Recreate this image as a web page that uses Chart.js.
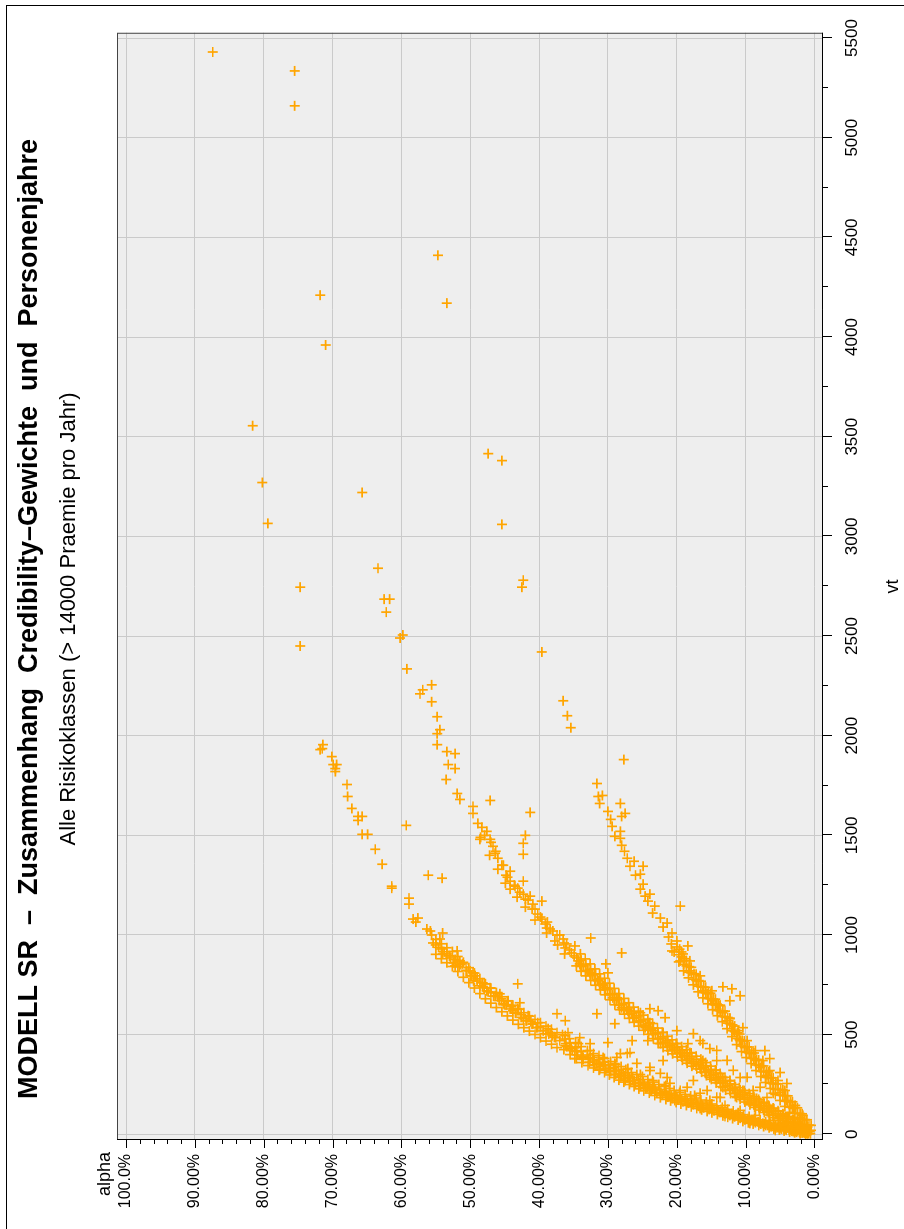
<!DOCTYPE html>
<html>
<head>
<meta charset="utf-8">
<script src="https://cdn.jsdelivr.net/npm/chart.js@4.4.1/dist/chart.umd.min.js"></script>
<style>
  html, body { margin: 0; padding: 0; background: #fff; }
  body { width: 904px; height: 1229px; overflow: hidden; position: relative; }
  #frame {
    position: absolute; left: 6px; top: 5px; width: 920px; height: 1260px;
    border-left: 1.5px solid #000; border-top: 1.5px solid #000;
  }
  #chartBox {
    position: absolute; left: 0; top: 0; width: 1229px; height: 904px;
    transform-origin: 0 0; transform: translate(0, 1229px) rotate(-90deg);
  }
</style>
</head>
<body>
<div id="frame"></div>
<div id="chartBox"><canvas id="credChart" width="1229" height="904"></canvas></div>
<script>
// [vt, alpha in %]
const highBranch = [
  [1955,71.4],[1935,71.5],[1930,71.8],[1895,70.1],[1855,69.9],[1855,69.4],[1835,69.6],[1820,69.6],
  [1755,67.9],[1695,67.8],[1635,67.2],[1595,66.3],[1595,65.7],[1575,66.3],[1505,65.7],[1505,64.9],
  [1430,63.8],[1355,62.8],[1245,61.4],[1235,61.4],[1185,58.9],[1155,58.9],[1080,58.3],[1085,57.6],
  [1065,57.9],[1030,56.3],[1020,55.8],[980,54.4],[960,55.4],[905,54.0],[905,53.4],[920,51.9],
  [885,52.9],[870,51.9],[870,51.5],[855,51.1],[845,52.2],[820,50.5],[820,50.0],[795,50.0],
  [795,49.3],[755,47.9],[745,48.6],[735,47.1],[720,47.6],[705,45.7],[695,46.4],[670,44.5],
  [655,45.2],[630,43.1],[620,43.8],[595,41.6],[580,42.3],[560,40.2],[555,40.9],[530,38.7],
  [520,39.4],[495,38.1],[470,37.0],[445,36.2],[430,35.5],[420,34.8],[385,33.6],[380,32.6],
  [355,31.6],[350,30.7],[320,29.7],[320,28.8],[295,28.0],[285,27.1],[270,26.4],[255,25.3],
  [235,24.3],[230,23.5],[205,22.4],[195,21.3],[180,20.0],[170,18.8],[155,17.6],[145,16.3],
  [130,15.2],[120,14.0],[105,12.7],[95,11.5],[80,10.4],[70,9.1],[55,7.9],[45,6.8],
  [35,5.4],[25,4.3],[15,3.1],[10,2.1],[5,0.9],
  [510,38.4],[540,39.8],[565,41.2],[600,42.6],[640,44.0],[680,45.5],[710,47.0],[760,48.2],
  [780,49.0],[810,49.6],[840,51.6],[860,52.4],[895,53.0],[930,54.2],[950,55.0],[1000,55.6],
  [485,37.6],[505,39.0],[535,40.4],[570,41.9],[610,43.4],[650,44.8],[690,46.0],[735,48.0],[770,49.5],
  [938,54.6],[916,53.8],[896,53.0],[877,52.2],[852,51.4],[823,50.6],[796,49.8],[769,49.0],
  [741,48.2],[715,47.4],[693,46.6],[671,45.8],[650,45.0],[629,44.2],[608,43.4],[587,42.6],
  [570,41.8],[553,41.0],[536,40.2],[520,39.4],[503,38.6],[487,37.8],
  [978,55.0],[956,54.2],[936,53.4],[917,52.6],[892,51.8],[863,51.0],[836,50.2],[809,49.4],
  [781,48.6],[755,47.8],[733,47.0],[711,46.2],[690,45.4],[669,44.6],[648,43.8],[627,43.0],
  [610,42.2],[593,41.4],[576,40.6],[560,39.8],[543,39.0],[527,38.2],[510,37.4],
  [903,55.0],[881,54.2],[861,53.4],[842,52.6],[817,51.8],[788,51.0],[761,50.2],[734,49.4],
  [706,48.6],[680,47.8],[658,47.0],[636,46.2],[615,45.4],[594,44.6],[573,43.8],[552,43.0],
  [535,42.2],[518,41.4],[501,40.6],[485,39.8],[468,39.0],[452,38.2],[435,37.4],
  [500,36.6],[480,35.6],[460,34.7],[440,33.9],[420,33.0],[405,32.1],[395,31.3],[380,30.5],
  [365,29.6],[350,28.9],[340,28.1],[325,27.4],[310,26.6],[300,25.8],[290,25.0],[275,24.2],
  [262,23.4],[250,22.6],[240,21.8],[230,21.1],[220,20.4],[210,19.6],[200,18.8],[192,18.0],
  [182,17.2],[172,16.5],[162,15.7],[152,14.9],[143,14.2],[135,13.4],[125,12.6],[117,11.8],
  [108,11.1],[98,10.3],[90,9.5],[80,8.7],[72,7.9],[63,7.1],[55,6.4],[47,5.6],
  [40,4.8],[32,4.0],[25,3.2],[18,2.5],[12,1.7],
  [455,36.1],[438,35.3],[415,34.5],[392,33.7],[378,32.8],[368,32.0],[357,31.2],[345,30.4],
  [332,29.7],[318,29.0],[305,28.3],[293,27.6],[283,26.9],[270,26.2],[258,25.4],[248,24.7],
  [236,23.9],[222,23.1],[210,22.3],[200,21.5],[192,20.8],[184,20.0],[176,19.3],[168,18.5],
  [160,17.8],[151,17.0],[143,16.3],[135,15.5],[127,14.8],[120,14.0],[112,13.2],[104,12.5],
  [97,11.8],[89,11.0],[81,10.3],[74,9.5],[66,8.8],[59,8.0],[52,7.3],[45,6.5],
  [39,5.8],[33,5.0],[27,4.3],[21,3.5],[15,2.8],[10,2.0],[6,1.3],[3,0.6],
  [425,36.4],[400,35.5],[380,34.6],[360,33.8],[345,32.9],[333,32.1],[322,31.3],[310,30.5],
  [298,29.8],[285,29.1],[272,28.4],[262,27.7],[250,26.9],[240,26.2],[228,25.5],[218,24.8],
  [207,24.0],[195,23.2],[184,22.4],[175,21.6],[168,20.9],[160,20.1],[152,19.4],[145,18.6],
  [138,17.9],[130,17.1],[123,16.4],[115,15.6],[108,14.9],[100,14.1],[93,13.3],[86,12.6],
  [79,11.9],[72,11.1],[65,10.4],[58,9.6],[52,8.9],[45,8.1],[39,7.4],[33,6.6],
  [27,5.9],[22,5.1],[17,4.4],[12,3.6],[8,2.9],[4,2.1],[2,1.3],
  [478,36.3],[458,35.5],[436,34.7],[415,33.9],[398,33.0],[386,32.2],[375,31.4],[362,30.6],
  [348,29.9],[334,29.2],[322,28.5],[309,27.8],[297,27.1],[285,26.4],[274,25.6],[262,24.9],
  [250,24.1],[237,23.3],[225,22.5],[215,21.7],[206,21.0],[197,20.2],[189,19.5],[180,18.7],
  [171,18.0],[162,17.2],[153,16.5],[145,15.7],[136,15.0],[128,14.2],[120,13.4],[111,12.7],
  [103,12.0],[94,11.2],[86,10.5],[78,9.7],[70,9.0],[62,8.2],[55,7.5],[47,6.7],
  [41,6.0],[34,5.2],[28,4.5],[22,3.7],[16,3.0],[11,2.2],[7,1.5],
  [440,36.0],[420,35.2],[398,34.4],[376,33.6],[362,32.7],[350,31.9],[340,31.1],[328,30.3],
  [315,29.6],[302,28.9],[290,28.2],[278,27.5],[267,26.7],[255,26.0],[244,25.3],[233,24.5],
  [222,23.7],[209,22.9],[197,22.1],[187,21.3],[180,20.6],[172,19.8],[164,19.1],[157,18.3],
  [149,17.6],[141,16.8],[133,16.1],[125,15.3],[118,14.6],[110,13.8],[102,13.0],[95,12.3],
  [88,11.6],[81,10.8],[73,10.1],[66,9.3],[59,8.6],[52,7.8],[45,7.1],[39,6.3],
  [33,5.6],[27,4.8],[21,4.1],[16,3.3],[11,2.6],[7,1.8],[3,1.0],
  [495,36.2],[455,34.3],[420,32.6],[385,30.7],[355,29.0],[330,27.1],[300,25.3],[270,23.5],
  [245,21.6],[220,19.5],[195,17.4],[170,15.2],[145,13.0],[120,10.8],[95,8.6],[70,6.5],
  [45,4.3],[25,2.4],
  [380,34.8],[325,31.2],[270,27.5],[220,23.9],[170,20.3],[130,16.6],[90,13.0],[55,9.4],[20,5.7]
];

const midBranch = [
  [2010,54.8],[1955,54.8],[1920,53.4],[1910,52.2],[1855,53.2],[1835,52.2],[1780,53.5],[1710,51.9],
  [1680,51.5],[1645,49.6],[1610,49.6],[1560,48.9],[1520,47.6],[1480,48.6],[1480,47.1],[1445,46.7],
  [1385,46.0],[1320,44.2],[1270,44.2],[1230,44.2],[1235,43.1],[1270,42.3],[1205,42.3],[1195,41.3],
  [1170,39.6],[1155,40.9],[1105,40.2],[1055,39.1],[1035,38.9],[1020,38.0],[980,36.5],[970,37.7],
  [945,34.8],[935,36.2],[885,34.5],[855,34.1],[820,33.0],[805,32.3],[770,31.4],[735,30.4],
  [705,29.7],[685,29.3],[635,28.0],[585,26.4],[570,25.3],[535,24.6],[520,23.6],[460,21.6],
  [455,22.4],[420,20.6],[405,19.5],[370,18.5],[355,17.6],[330,16.6],[310,15.9],[285,15.2],
  [270,14.2],[235,13.3],[220,12.3],[185,11.3],[175,10.2],[155,9.4],[145,8.6],[135,7.9],
  [115,6.9],[95,6.0],[80,5.0],[60,4.0],[45,3.1],[30,2.1],[15,1.2],
  [810,32.6],[745,30.7],[685,28.7],[620,27.1],[610,25.3],[560,23.9],[510,22.0],[455,20.1],
  [410,18.1],[370,16.2],[320,14.3],[270,12.3],[220,10.4],[180,8.4],[130,6.5],[95,4.6],[50,2.5],
  [1500,47.9],[1420,46.3],[1350,45.2],[1290,44.6],[1250,43.6],[1180,42.0],[1130,41.0],[1080,39.6],
  [1000,37.0],[955,36.0],[910,35.3],
  [1540,48.3],[1465,47.0],[1410,46.4],[1350,45.4],[1300,44.8],[1245,43.5],[1215,42.8],[1175,41.6],
  [1130,40.6],[1090,39.8],[1065,38.8],[1030,38.4],[1000,37.4],[960,36.4],[925,35.6],[895,34.9],
  [1490,48.5],[1400,47.2],[1330,46.0],[1260,44.9],[1190,43.2],[1140,42.0],[1075,40.6],[1010,38.9],
  [950,37.3],[905,36.3],
  [870,34.3],[845,33.6],[822,32.9],[800,32.2],[775,31.5],[752,30.8],[728,30.1],[702,29.4],
  [675,28.7],[650,28.0],[628,27.3],[608,26.6],[588,25.9],[568,25.2],[548,24.5],[528,23.8],
  [505,23.1],[482,22.4],[462,21.7],[445,21.0],[428,20.3],[412,19.6],[395,18.9],[380,18.2],
  [365,17.5],[351,16.8],[337,16.1],[318,15.4],[300,14.7],[283,14.0],[262,13.3],[245,12.6],
  [228,11.9],[212,11.2],[198,10.5],[184,9.8],[170,9.1],[157,8.4],[144,7.7],[131,7.0],
  [118,6.3],[104,5.6],[90,4.9],[77,4.2],[64,3.5],[51,2.8],[39,2.1],[27,1.4],[14,0.7],
  [905,34.0],[880,33.3],[855,32.6],[830,31.9],[805,31.2],[783,30.5],[758,29.8],[732,29.1],
  [706,28.4],[682,27.7],[660,27.0],[638,26.3],[618,25.6],[598,24.9],[578,24.2],[556,23.5],
  [533,22.8],[512,22.1],[492,21.4],[474,20.7],[456,20.0],[440,19.3],[424,18.6],[408,17.9],
  [392,17.2],[377,16.5],[360,15.8],[342,15.1],[323,14.4],[305,13.7],[286,13.0],[268,12.3],
  [250,11.6],[234,10.9],[219,10.2],[204,9.5],[189,8.8],[175,8.1],[161,7.4],[146,6.7],
  [132,6.0],[118,5.3],[103,4.6],[88,3.9],[74,3.2],[59,2.5],[45,1.8],[30,1.1],
  [845,34.6],[818,33.9],[795,33.2],[772,32.5],[748,31.8],[725,31.1],[700,30.4],[675,29.7],
  [650,29.0],[625,28.3],[603,27.6],[582,26.9],[562,26.2],[543,25.5],[522,24.8],[502,24.1],
  [480,23.4],[456,22.7],[436,22.0],[420,21.3],[404,20.6],[388,19.9],[372,19.2],[357,18.5],
  [342,17.8],[328,17.1],[312,16.4],[295,15.7],[276,15.0],[258,14.3],[239,13.6],[222,12.9],
  [205,12.2],[190,11.5],[176,10.8],[162,10.1],[148,9.4],[135,8.7],[122,8.0],[110,7.3],
  [97,6.6],[84,5.9],[71,5.2],[58,4.5],[45,3.8],[33,3.1],[22,2.4],[12,1.7],
  [874,33.9],[850,33.2],[828,32.5],[804,31.8],[780,31.1],[757,30.4],[732,29.7],[705,29.0],
  [679,28.3],[656,27.6],[635,26.9],[615,26.2],[595,25.5],[575,24.8],[555,24.1],[533,23.4],
  [510,22.7],[489,22.0],[470,21.3],[453,20.6],[437,19.9],[420,19.2],[404,18.5],[389,17.8],
  [375,17.1],[361,16.4],[344,15.7],[326,15.0],[308,14.3],[289,13.6],[270,12.9],[253,12.2],
  [237,11.5],[222,10.8],[208,10.1],[194,9.4],[180,8.7],[167,8.0],[154,7.3],[141,6.6],
  [128,5.9],[114,5.2],[100,4.5],[87,3.8],[74,3.1],[62,2.4],[50,1.7],[37,1.0],
  [842,34.0],[818,33.3],[796,32.6],[772,31.9],[748,31.2],[725,30.5],[700,29.8],[673,29.1],
  [647,28.4],[624,27.7],[603,27.0],[583,26.3],[563,25.6],[543,24.9],[523,24.2],[501,23.5],
  [478,22.8],[457,22.1],[438,21.4],[421,20.7],[405,20.0],[388,19.3],[372,18.6],[357,17.9],
  [343,17.2],[329,16.5],[312,15.8],[294,15.1],[276,14.4],[257,13.7],[238,13.0],[221,12.3],
  [205,11.6],[190,10.9],[176,10.2],[162,9.5],[148,8.8],[135,8.1],[122,7.4],[109,6.7],
  [96,6.0],[82,5.3],[68,4.6],[55,3.9],[42,3.2],[30,2.5],[18,1.8],[7,1.1]
];

const lowBranch = [
  [1760,31.6],[1695,31.4],[1660,31.2],[1620,30.0],[1660,28.2],[1610,27.5],[1595,28.0],[1545,29.4],
  [1495,29.0],[1520,28.2],[1485,28.2],[1385,27.2],[1345,26.8],[1345,24.9],[1305,25.3],[1255,24.9],
  [1195,24.6],[1205,23.9],[1145,23.2],[1085,22.4],[1060,21.4],[1010,20.7],[970,20.0],[920,20.7],
  [905,19.1],[870,19.5],[820,18.1],[770,17.1],[720,16.2],[705,15.6],[670,14.9],[655,14.2],
  [610,13.4],[570,12.7],[520,11.8],[470,10.8],[435,10.1],[405,9.4],[370,8.6],[335,7.9],
  [295,6.9],[255,6.0],[210,5.0],[170,4.0],[130,3.1],[85,2.1],[45,1.2],
  [1700,30.8],[1580,29.6],[1450,28.0],[1420,27.6],[1370,26.2],[1300,26.0],[1230,25.3],[1170,24.2],
  [1110,23.5],[1040,22.0],[990,21.2],[955,20.8],
  [870,18.1],[795,16.6],[720,14.9],[645,13.7],[580,12.3],[520,11.1],[470,9.8],[420,8.6],
  [370,7.5],[320,6.5],[270,5.3],[220,4.3],[145,2.8],[95,1.7],
  [940,20.0],[890,19.3],[845,18.6],[810,17.9],[775,17.2],[740,16.5],[710,15.8],[680,15.1],
  [650,14.4],[620,13.7],[590,13.0],[555,12.3],[515,11.6],[475,10.9],[440,10.2],[410,9.5],
  [380,8.8],[345,8.1],[315,7.4],[285,6.7],[255,6.0],[225,5.3],[195,4.6],[165,3.9],
  [135,3.2],[105,2.5],[75,1.8],[45,1.1],[20,0.5],
  [915,19.3],[872,18.6],[838,17.9],[803,17.2],[768,16.5],[738,15.8],[708,15.1],[678,14.4],
  [648,13.7],[618,13.0],[583,12.3],[543,11.6],[503,10.9],[468,10.2],[438,9.5],[408,8.8],
  [373,8.1],[343,7.4],[313,6.7],[283,6.0],[253,5.3],[223,4.6],[193,3.9],[163,3.2],
  [133,2.5],[103,1.8],[73,1.1],[45,0.5],
  [915,20.4],[865,19.7],[820,19.0],[785,18.3],[750,17.6],[715,16.9],[685,16.2],[655,15.5],
  [625,14.8],[595,14.1],[565,13.4],[530,12.7],[490,12.0],[450,11.3],[415,10.6],[385,9.9],
  [355,9.2],[320,8.5],[290,7.8],[260,7.1],[230,6.4],[200,5.7],[170,5.0],[140,4.3],
  [110,3.6],[80,2.9],[50,2.2],[25,1.5],
  [929,19.6],[881,18.9],[841,18.2],[806,17.5],[771,16.8],[739,16.1],[709,15.4],[679,14.7],
  [649,14.0],[619,13.3],[586,12.6],[549,11.9],[509,11.2],[471,10.5],[439,9.8],[409,9.1],
  [376,8.4],[344,7.7],[314,7.0],[284,6.3],[254,5.6],[224,4.9],[194,4.2],[164,3.5],
  [134,2.8],[104,2.1],[74,1.4],[46,0.8],
  [901,19.7],[853,19.0],[813,18.3],[778,17.6],[743,16.9],[711,16.2],[681,15.5],[651,14.8],
  [621,14.1],[591,13.4],[558,12.7],[521,12.0],[481,11.3],[443,10.6],[411,9.9],[381,9.2],
  [348,8.5],[316,7.8],[286,7.1],[256,6.4],[226,5.7],[196,5.0],[166,4.3],[136,3.6],
  [106,2.9],[76,2.2],[46,1.5],[18,0.8]
];

const scattered = [
  [5430,87.4],[5335,75.5],[5160,75.5],[4210,71.8],[3960,71.0],[3555,81.6],[3270,80.2],[3065,79.4],
  [2745,74.7],[2450,74.7],[3220,65.7],[2840,63.4],[2685,62.5],[2685,61.7],[2620,62.2],[2490,60.2],
  [2505,59.8],[2335,59.2],[2210,57.3],[2230,56.9],[2255,55.6],[2170,55.6],[2095,54.8],[2030,54.4],
  [4410,54.7],[4170,53.4],[3415,47.4],[3380,45.4],[3060,45.4],[2780,42.3],[2745,42.5],[2420,39.6],
  [2175,36.5],[2100,35.9],[2040,35.4],[1880,27.7],[1550,59.3],[1300,56.1],[1285,54.1],[1010,54.0],
  [1675,47.1],[1615,41.3],[1500,42.0],[1460,42.3],[1405,42.3],[985,32.5],[910,28.0],[855,30.3],
  [810,30.0],[755,43.1],[660,42.8],[605,37.4],[605,31.6],[555,29.0],[510,35.8],[570,36.2],
  [485,34.1],[455,32.6],[460,30.0],[405,28.2],[470,26.5],[410,26.8],[630,23.9],[620,22.7],
  [585,21.7],[470,24.2],[320,23.9],[370,22.0],[285,21.4],[520,20.0],[455,18.4],[505,17.6],
  [470,16.6],[430,15.2],[370,14.2],[285,13.3],[270,17.6],[220,15.6],[185,13.7],[285,10.8],
  [220,8.9],[185,6.9],[740,13.3],[730,12.0],[670,12.3],[695,10.8],[535,10.4],[420,7.2],
  [380,6.5],[310,5.0],[255,4.0],[1145,19.5],[945,18.4],
  [386,28.7],[406,27.2],[356,25.8],[336,23.9],[306,22.4],[256,21.0],[236,18.5],[206,16.6],[186,14.2],
  [456,16.2],[421,14.2],[371,12.7],[321,11.8],[286,9.8],[236,7.9],[206,6.0]
];

const vtTicks = [0, 500, 1000, 1500, 2000, 2500, 3000, 3500, 4000, 4500, 5000, 5500];
const vtTickLabels = ["0", "500", "1000", "1500", "2000", "2500", "3000", "3500", "4000", "4500", "5000", "5500"];
const alphaTicks = [0, 10, 20, 30, 40, 50, 60, 70, 80, 90, 100];
const alphaTickLabels = ["0.00%", "10.00%", "20.00%", "30.00%", "40.00%", "50.00%", "60.00%", "70.00%", "80.00%", "90.00%", "100.0%"];
const vtMinorStep = 250;
const alphaMinorStep = 2;

const titleText = "MODELL SR  \u2013  Zusammenhang  Credibility\u2013Gewichte  und  Personenjahre";
const subtitleText = "Alle Risikoklassen (> 14000 Praemie pro Jahr)";

const FONT = "'Liberation Sans', Arial, sans-serif";

// plot background, frame, tick marks and the "alpha" label
const plotFrame = {
  id: "plotFrame",
  beforeDraw(chart) {
    const { ctx, chartArea: a } = chart;
    ctx.save();
    ctx.fillStyle = "#eeeeee";
    ctx.fillRect(a.left, a.top, a.right - a.left, a.bottom - a.top);
    ctx.restore();
  },
  afterDraw(chart) {
    const { ctx, chartArea: a, scales } = chart;
    const x = scales.x;
    const y = scales.y;
    ctx.save();
    ctx.strokeStyle = "#444";
    ctx.lineWidth = 1;
    ctx.strokeRect(a.left + 0.5, a.top + 0.5, a.right - a.left - 1, a.bottom - a.top - 1);

    ctx.strokeStyle = "#000";
    ctx.beginPath();
    ctx.moveTo(a.left, a.bottom - 0.5);
    ctx.lineTo(a.right, a.bottom - 0.5);
    ctx.moveTo(a.left + 0.5, a.top);
    ctx.lineTo(a.left + 0.5, a.bottom);
    const vtMax = vtTicks[vtTicks.length - 1];
    for (let v = vtTicks[0]; v <= vtMax; v += vtMinorStep) {
      const px = Math.round(x.getPixelForValue(v)) + 0.5;
      const len = vtTicks.includes(v) ? 9 : 5;
      ctx.moveTo(px, a.bottom);
      ctx.lineTo(px, a.bottom + len);
    }
    const alphaMax = alphaTicks[alphaTicks.length - 1];
    for (let v = alphaTicks[0]; v <= alphaMax; v += alphaMinorStep) {
      const py = Math.round(y.getPixelForValue(v)) + 0.5;
      const len = alphaTicks.includes(v) ? 8 : 4;
      ctx.moveTo(a.left, py);
      ctx.lineTo(a.left - len, py);
    }
    ctx.stroke();

    ctx.fillStyle = "#000";
    ctx.font = "18px " + FONT;
    ctx.textAlign = "right";
    ctx.textBaseline = "alphabetic";
    ctx.fillText("alpha", 77, 110);
    ctx.restore();
  },
};

function toPoints(list) {
  return list.map(([vt, alpha]) => ({ x: vt, y: alpha }));
}

const allPoints = [
  ...toPoints(highBranch),
  ...toPoints(midBranch),
  ...toPoints(lowBranch),
  ...toPoints(scattered),
];

const ctx = document.getElementById("credChart").getContext("2d");
new Chart(ctx, {
  type: "scatter",
  data: {
    datasets: [
      {
        data: allPoints,
        pointStyle: "cross",
        pointRadius: 5,
        pointBorderWidth: 1.7,
        borderColor: "#FFA500",
        backgroundColor: "#FFA500",
      },
    ],
  },
  options: {
    responsive: false,
    devicePixelRatio: 1,
    animation: false,
    layout: { padding: { left: 0, right: 9, top: 0, bottom: 0 } },
    plugins: {
      legend: { display: false },
      tooltip: { enabled: false },
      title: {
        display: true,
        text: titleText,
        color: "#000",
        font: { family: FONT, size: 27, weight: "bold" },
        padding: { top: 13, bottom: 4 },
      },
      subtitle: {
        display: true,
        text: subtitleText,
        color: "#000",
        font: { family: FONT, size: 22, weight: "normal" },
        padding: { top: 6.4, bottom: 34.8 },
      },
    },
    scales: {
      x: {
        type: "linear",
        min: -28.5,
        max: 5526.5,
        afterBuildTicks: (axis) => {
          axis.ticks = vtTicks.map((v) => ({ value: v }));
        },
        afterFit: (axis) => {
          axis.height = 81;
        },
        grid: { color: "#cacaca", drawTicks: false },
        border: { display: false },
        ticks: {
          padding: 19,
          color: "#000",
          maxRotation: 0,
          autoSkip: false,
          font: { family: FONT, size: 17 },
          callback: (value, index) => vtTickLabels[index],
        },
        title: {
          display: true,
          text: "vt",
          color: "#000",
          font: { family: FONT, size: 18 },
          padding: { top: 0, bottom: 0 },
        },
      },
      y: {
        type: "linear",
        min: -1.235,
        max: 101.31,
        afterBuildTicks: (axis) => {
          axis.ticks = alphaTicks.map((v) => ({ value: v }));
        },
        afterFit: (axis) => {
          axis.width = 89;
        },
        grid: { color: "#cacaca", drawTicks: false },
        border: { display: false },
        ticks: {
          padding: 14,
          color: "#000",
          autoSkip: false,
          font: { family: FONT, size: 16 },
          callback: (value, index) => alphaTickLabels[index],
        },
      },
      // empty right-hand strip so the titles centre like the original
      yRight: {
        type: "linear",
        position: "right",
        display: true,
        grid: { display: false },
        border: { display: false },
        ticks: { display: false },
        afterFit: (axis) => {
          axis.width = 20;
        },
      },
    },
  },
  plugins: [plotFrame],
});
</script>
</body>
</html>
